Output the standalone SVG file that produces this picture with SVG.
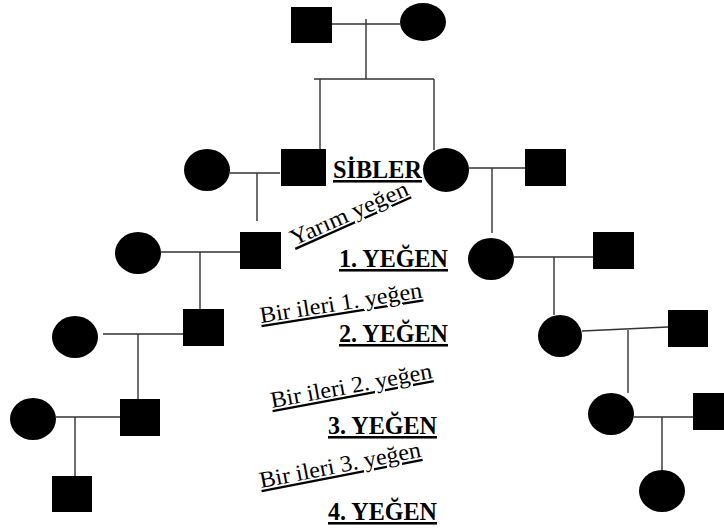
<svg xmlns="http://www.w3.org/2000/svg" width="724" height="532" viewBox="0 0 724 532">
<style>
.m{fill:#000}
.f{fill:#000}
.ln{stroke:#333;stroke-width:1.4;fill:none}
.lbl{font-family:"Liberation Serif","Times New Roman",serif;font-size:25.5px;font-weight:bold;text-decoration:underline;fill:#000}
.sl{font-family:"Liberation Serif","Times New Roman",serif;font-size:23px;text-decoration:underline;fill:#000}
</style>
<rect width="724" height="532" fill="#fff"/>
<g id="connectors">
<path class="ln" d="M332,24H400M366,19V79M314,79H434M320,79V149M434,79V150"/>
<path class="ln" d="M230,173H280M257,173V221"/>
<path class="ln" d="M469,168H525M492,168V233"/>
<path class="ln" d="M161,252H240M200,252V309"/>
<path class="ln" d="M514,257H593M554,257V315"/>
<path class="ln" d="M103,334H183M138,334V399"/>
<path class="ln" d="M582,331L668,327M628,330V393"/>
<path class="ln" d="M56,417H120M75,417V476"/>
<path class="ln" d="M634,417H693M662,417V470"/>
</g>
<g id="g1-male"><rect class="m" x="291" y="7" width="41" height="36"/></g>
<g id="g1-female"><ellipse class="f" cx="423" cy="22" rx="23" ry="19"/></g>
<g id="g2-left-wife"><ellipse class="f" cx="207" cy="170" rx="23" ry="21"/></g>
<g id="g2-left-male"><rect class="m" x="281" y="149" width="45" height="37"/></g>
<g id="g2-right-female"><ellipse class="f" cx="446" cy="170" rx="23" ry="22"/></g>
<g id="g2-right-husband"><rect class="m" x="525" y="149" width="41" height="37"/></g>
<g id="g3-left-wife"><ellipse class="f" cx="138" cy="253" rx="23" ry="21"/></g>
<g id="g3-left-male"><rect class="m" x="240" y="232" width="41" height="37"/></g>
<g id="g3-right-female"><ellipse class="f" cx="491" cy="259" rx="23" ry="21"/></g>
<g id="g3-right-husband"><rect class="m" x="593" y="232" width="41" height="37"/></g>
<g id="g4-left-wife"><ellipse class="f" cx="75" cy="337" rx="23" ry="21"/></g>
<g id="g4-left-male"><rect class="m" x="183" y="309" width="41" height="37"/></g>
<g id="g4-right-female"><ellipse class="f" cx="560" cy="336" rx="22" ry="21"/></g>
<g id="g4-right-husband"><rect class="m" x="668" y="310" width="40" height="37"/></g>
<g id="g5-left-wife"><ellipse class="f" cx="33" cy="419" rx="23" ry="21"/></g>
<g id="g5-left-male"><rect class="m" x="120" y="399" width="40" height="37"/></g>
<g id="g5-right-female"><ellipse class="f" cx="611" cy="414" rx="23" ry="21"/></g>
<g id="g5-right-husband"><rect class="m" x="693" y="393" width="41" height="37"/></g>
<g id="g6-left-male"><rect class="m" x="52" y="476" width="40" height="36"/></g>
<g id="g6-right-female"><ellipse class="f" cx="662" cy="491" rx="23" ry="21"/></g>
<g id="labels">
<text class="lbl" x="333" y="178" textLength="89" lengthAdjust="spacingAndGlyphs">SİBLER</text>
<text class="lbl" x="339" y="267" textLength="109" lengthAdjust="spacingAndGlyphs">1. YEĞEN</text>
<text class="lbl" x="339" y="342" textLength="109" lengthAdjust="spacingAndGlyphs">2. YEĞEN</text>
<text class="lbl" x="328" y="434" textLength="109" lengthAdjust="spacingAndGlyphs">3. YEĞEN</text>
<text class="lbl" x="328" y="520" textLength="109" lengthAdjust="spacingAndGlyphs">4. YEĞEN</text>
<text class="sl" transform="translate(294,246) rotate(-24)" textLength="127" lengthAdjust="spacingAndGlyphs">Yarım yeğen</text>
<text class="sl" transform="translate(261,323) rotate(-9)" textLength="164" lengthAdjust="spacingAndGlyphs">Bir ileri 1. yeğen</text>
<text class="sl" transform="translate(272,408) rotate(-10.5)" textLength="164" lengthAdjust="spacingAndGlyphs">Bir ileri 2. yeğen</text>
<text class="sl" transform="translate(261,488) rotate(-11)" textLength="164" lengthAdjust="spacingAndGlyphs">Bir ileri 3. yeğen</text>
</g>
</svg>
